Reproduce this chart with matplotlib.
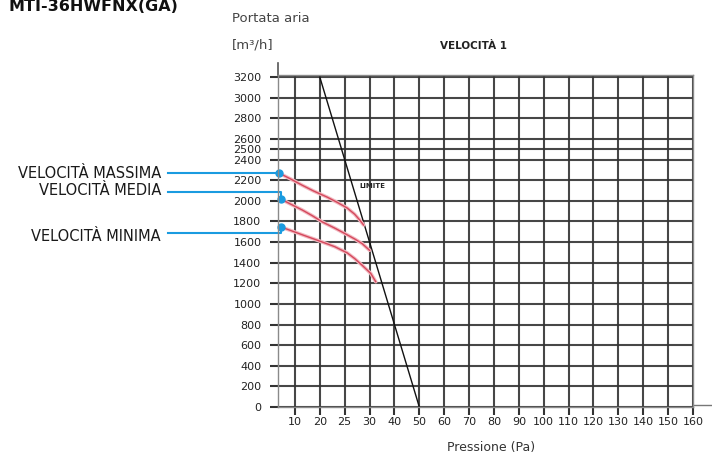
import numpy as np
import matplotlib.pyplot as plt


# x axis: pressure ticks (Pa) are drawn equally spaced, not proportional
pressure_ticks = [10, 20, 25, 30, 40, 50, 60, 70, 80, 90, 100, 110, 120, 130, 140, 150, 160]
flow_ticks = [0, 200, 400, 600, 800, 1000, 1200, 1400, 1600, 1800, 2000, 2200,
              2400, 2500, 2600, 2800, 3000, 3200]

# fan curves (Pa, m3/h)
max_pa = [3.5, 8.0, 13.0, 17.5, 21.5, 23.5, 25.5, 27.0, 28.0, 28.8]
max_flow = [2270, 2215, 2150, 2095, 2035, 1985, 1930, 1870, 1815, 1765]
mid_pa = [4.5, 8.5, 13.0, 17.0, 20.5, 23.0, 25.5, 27.0, 28.5, 30.0]
mid_flow = [2015, 1965, 1910, 1855, 1795, 1735, 1670, 1630, 1585, 1520]
min_pa = [4.5, 8.5, 13.0, 17.0, 20.5, 23.0, 25.5, 27.0, 28.5, 30.5, 32.5]
min_flow = [1745, 1710, 1670, 1635, 1600, 1555, 1495, 1440, 1375, 1295, 1215]

# limit line
limit_pa = [20, 50]
limit_flow = [3200, 0]

speed_labels = ["VELOCITÀ MASSIMA", "VELOCITÀ MEDIA", "VELOCITÀ MINIMA"]

GRID = "#333333"
CURVE = "#d4485c"
BLUE = "#1a9be0"

# piecewise scale so the ticks sit at equal spacing
scale_vals = [0] + pressure_ticks
scale_pos = np.arange(-1, len(pressure_ticks))


def forward(x):
    return np.interp(x, scale_vals, scale_pos)


def inverse(p):
    return np.interp(p, scale_pos, scale_vals)


W, H = 712, 463
fig = plt.figure(figsize=(W / 100, H / 100), dpi=100)
ax = fig.add_axes([278 / W, 1 - 407 / H, (693 - 278) / W, (407 - 75) / H])

ax.set_xscale("function", functions=(forward, inverse))
ax.set_xlim(3.2, 160)
ax.set_ylim(0, 3220)

ax.set_xticks(pressure_ticks)
ax.set_xticklabels([str(v) for v in pressure_ticks])
ax.set_yticks(flow_ticks)
ax.set_yticklabels([str(v) for v in flow_ticks])
ax.minorticks_off()

ax.grid(True, color=GRID, linewidth=1.5, alpha=0.9)
ax.set_axisbelow(True)
ax.tick_params(axis="both", direction="out", length=6, width=1.5, color=GRID,
               labelsize=8, labelcolor="#222222")
ax.tick_params(axis="x", pad=1)
ax.tick_params(axis="y", pad=6)
for s in ax.spines.values():
    s.set_color("#8a8a8a")
    s.set_linewidth(1.0)

# axis lines running past the frame
ax.plot([0, 0], [1, 1.035], transform=ax.transAxes, color="#555555", lw=1.2, clip_on=False)
ax.plot([1, 1.05], [0.006, 0.006], transform=ax.transAxes, color="#777777", lw=1.0, clip_on=False)

# limit line
ax.plot(limit_pa, limit_flow, color="#111111", lw=1.0)
ax.text(28, 2143, "LIMITE", fontsize=5, fontweight="bold", color="#222222", va="center")

# speed curves
curves = [(max_pa, max_flow), (mid_pa, mid_flow), (min_pa, min_flow)]
for pa, flow in curves:
    ax.plot(pa, flow, color="#f2b8c0", lw=2.6, solid_capstyle="round")
    ax.plot(pa, flow, color=CURVE, lw=1.0)

# leader lines and labels
ytrans = ax.get_yaxis_transform()
inv = ax.transAxes.inverted()
leader_y = [2269, 2085, 1687]
text_y = [2269, 2095, 1658]
for (pa, flow), ly, ty, label in zip(curves, leader_y, text_y, speed_labels):
    dx = inv.transform(ax.transData.transform((pa[0], flow[0])))[0]
    ax.plot([-0.265, dx, dx], [ly, ly, flow[0]], transform=ytrans, color=BLUE,
            lw=1.5, clip_on=False)
    ax.plot(pa[0], flow[0], "o", color=BLUE, markersize=5, clip_on=False)
    ax.text(-0.282, ty, label, transform=ytrans, ha="right", va="center",
            fontsize=10.5, color="#1a1a1a")

# texts around the chart
fig.text(8 / W, 1 - 11 / H, "MTI-36HWFNX(GA)", fontsize=11.5, fontweight="bold",
         color="#111111", va="baseline")
fig.text(232 / W, 1 - 18 / H, "Portata aria", fontsize=9.5, color="#444444", va="center")
fig.text(232 / W, 1 - 45 / H, "[m³/h]", fontsize=9.5, color="#444444", va="center")
fig.text(440 / W, 1 - 46 / H, "VELOCITÀ 1", fontsize=7.5, fontweight="bold",
         color="#222222", va="center")
fig.text(491 / W, 1 - 447 / H, "Pressione (Pa)", fontsize=9, color="#333333",
         ha="center", va="center")

fig.savefig("out.png", dpi=100)
